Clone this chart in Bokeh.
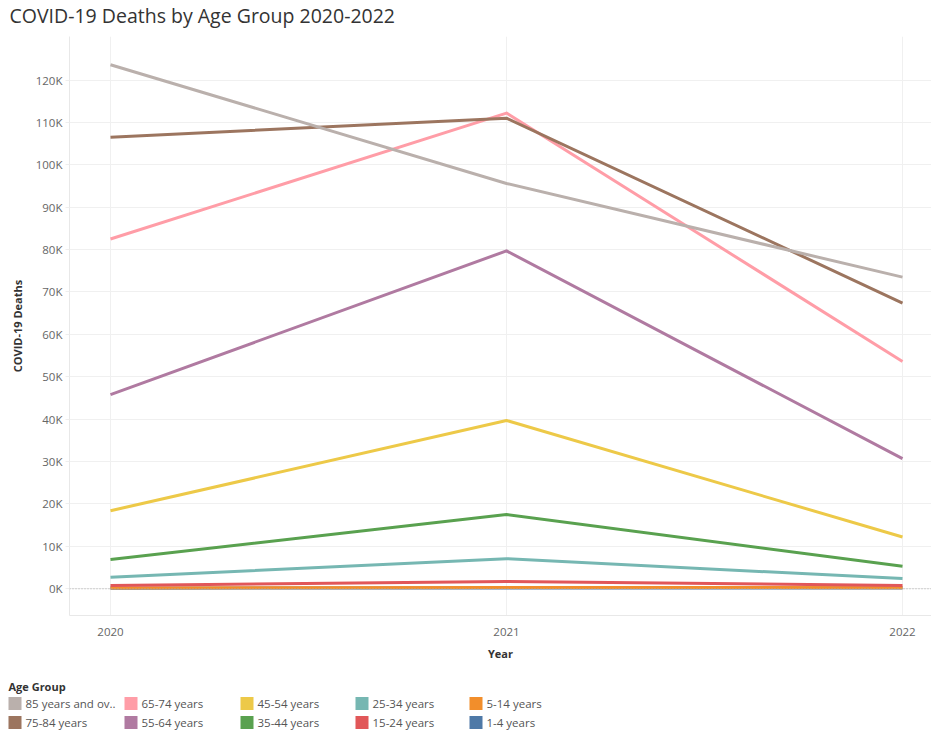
from bokeh.plotting import figure
from bokeh.models import Range1d, FixedTicker, Span, ColumnDataSource
from bokeh.layouts import column
from bokeh.core.properties import value
from bokeh.embed import file_html
from bokeh.resources import INLINE

# ---------------- data ----------------
years = [2020, 2021, 2022]
age_groups = ["85 years and over", "75-84 years", "65-74 years", "55-64 years",
              "45-54 years", "35-44 years", "25-34 years", "15-24 years",
              "5-14 years", "1-4 years"]
legend_labels = ["85 years and ov..", "75-84 years", "65-74 years", "55-64 years",
                 "45-54 years", "35-44 years", "25-34 years", "15-24 years",
                 "5-14 years", "1-4 years"]
deaths_85_plus = [123600, 95600, 73500]
deaths_75_84 = [106500, 111000, 67400]
deaths_65_74 = [82500, 112200, 53600]
deaths_55_64 = [45800, 79700, 30700]
deaths_45_54 = [18400, 39700, 12200]
deaths_35_44 = [6900, 17500, 5300]
deaths_25_34 = [2700, 7100, 2400]
deaths_15_24 = [800, 1700, 800]
deaths_5_14 = [200, 320, 260]
deaths_1_4 = [150, 180, 200]
series = [deaths_85_plus, deaths_75_84, deaths_65_74, deaths_55_64, deaths_45_54,
          deaths_35_44, deaths_25_34, deaths_15_24, deaths_5_14, deaths_1_4]
colors = ["#BAB0AC", "#9C755F", "#FF9DA7", "#B07AA1", "#EDC948",
          "#59A14F", "#76B7B2", "#E15759", "#F28E2B", "#4E79A7"]
y_ticks = list(range(0, 120001, 10000))
y_tick_labels = {t: f"{t // 1000}K" for t in y_ticks}
title_text = "COVID-19 Deaths by Age Group 2020-2022"
legend_title = "Age Group"

FONT = "Open Sans"

# ---------------- layout constants (pixels) ----------------
W = 931
H_TITLE = 36
H_MAIN = 636
H_LEG = 60
FL = 69              # frame left
FB = 579             # frame bottom inside the main figure


def blank_figure(height):
    f = figure(width=W, height=height, output_backend="svg",
               toolbar_location=None, x_range=Range1d(0, W),
               y_range=Range1d(height, 0), min_border=0, min_border_left=0,
               min_border_right=0, min_border_top=0, min_border_bottom=0)
    f.axis.visible = False
    f.grid.visible = False
    f.outline_line_color = None
    return f


# ---------------- title figure ----------------
tf = blank_figure(H_TITLE)
tf.text(x=[9], y=[15], text=[title_text], text_font=value(FONT),
        text_font_size="19.5px", text_color="#333333", text_baseline="middle")

# ---------------- main chart ----------------
p = figure(width=W, height=H_MAIN, output_backend="svg", toolbar_location=None,
           x_range=Range1d(2019.8965, 2022.0732), y_range=Range1d(-6300, 130260),
           min_border_left=FL, min_border_right=0, min_border_top=0,
           min_border_bottom=H_MAIN - FB, background_fill_color="white",
           border_fill_color="white")
p.outline_line_color = None

# y axis
p.yaxis.ticker = FixedTicker(ticks=y_ticks)
p.yaxis.major_label_overrides = y_tick_labels
p.yaxis.axis_label = "COVID-19 Deaths"
p.yaxis.axis_label_text_font = FONT
p.yaxis.axis_label_text_font_size = "11px"
p.yaxis.axis_label_text_font_style = "bold"
p.yaxis.axis_label_text_color = "#333333"
p.yaxis.axis_label_standoff = 8
p.yaxis.major_label_text_font = FONT
p.yaxis.major_label_text_font_size = "11.5px"
p.yaxis.major_label_text_color = "#666666"
p.yaxis.major_tick_out = 4
p.yaxis.major_tick_in = 0
p.yaxis.major_tick_line_color = "#eeeeee"
p.yaxis.minor_tick_line_color = None
p.yaxis.axis_line_color = "#e8e8e8"
p.yaxis.major_label_standoff = 3

# x axis
p.xaxis.ticker = FixedTicker(ticks=years)
p.xaxis.axis_label = "Year"
p.xaxis.axis_label_text_font = FONT
p.xaxis.axis_label_text_font_size = "11px"
p.xaxis.axis_label_text_font_style = "bold"
p.xaxis.axis_label_text_color = "#333333"
p.xaxis.axis_label_standoff = 7
p.xaxis.major_label_text_font = FONT
p.xaxis.major_label_text_font_size = "11.5px"
p.xaxis.major_label_text_color = "#666666"
p.xaxis.major_tick_out = 0
p.xaxis.major_tick_in = 0
p.xaxis.minor_tick_line_color = None
p.xaxis.axis_line_color = "#e8e8e8"
p.xaxis.major_label_standoff = 12

p.ygrid.ticker = FixedTicker(ticks=y_ticks)
p.ygrid.grid_line_color = "#f0f0f0"
p.xgrid.ticker = FixedTicker(ticks=years)
p.xgrid.grid_line_color = "#f0f0f0"

p.add_layout(Span(location=0, dimension="width", line_color="#aaaaaa",
                  line_width=1, line_dash="1 2"))

# lines: youngest first so older groups sit on top
for i in reversed(range(len(age_groups))):
    src = ColumnDataSource(dict(x=years, y=series[i]))
    p.line("x", "y", source=src, line_color=colors[i], line_width=3,
           line_join="round")

# ---------------- legend figure ----------------
leg = blank_figure(H_LEG)

col_x = [8, 124, 240, 355, 469]
row_y = [31, 50]
sx, sy, tx = [], [], []
for k in range(len(legend_labels)):
    c, r = divmod(k, 2)
    sx.append(col_x[c] + 6.5)
    sy.append(row_y[r])
    tx.append(col_x[c] + 17)
leg.rect(x=sx, y=sy, width=13, height=13, width_units="screen",
         height_units="screen", fill_color=colors, line_color=None)
leg.text(x=tx, y=sy, text=legend_labels, text_font=value(FONT),
         text_font_size="11.5px", text_color="#555555", text_baseline="middle")
leg.text(x=[8], y=[14], text=[legend_title], text_font=value(FONT),
         text_font_size="11px", text_font_style="bold", text_color="#333333",
         text_baseline="middle")

for fig in (tf, p, leg):
    if "frame_align" in fig.properties():
        fig.frame_align = False

layout = column(tf, p, leg, spacing=0)
open("out.html", "w").write(file_html(layout, INLINE))
